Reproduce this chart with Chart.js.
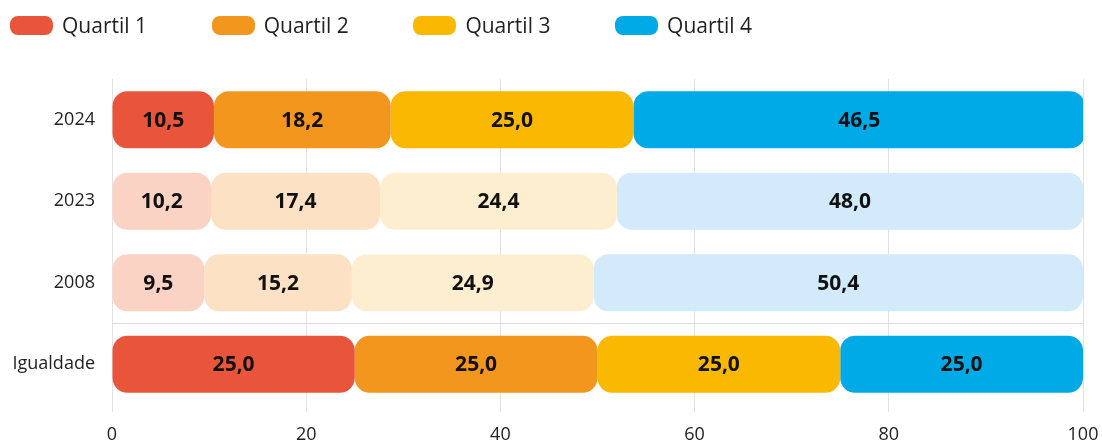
<!DOCTYPE html>
<html>
<head>
<meta charset="utf-8">
<script src="https://cdn.jsdelivr.net/npm/chart.js@4/dist/chart.umd.min.js"></script>
<style>
  body { margin: 0; background: #fff; font-family: "Open Sans", sans-serif; }
  #wrap { position: relative; width: 1102px; height: 441px; }
  #legend { position: absolute; left: 0; top: 0; height: 50px; width: 1102px; }
  .item { position: absolute; top: 11px; display: flex; align-items: center; font-size: 21px; color: #222; }
  .box { width: 43px; height: 19px; border-radius: 8px; margin-right: 9px; }
</style>
</head>
<body>
<div id="wrap">
  <canvas id="quartilChart" width="1102" height="441"></canvas>
  <div id="legend"></div>
</div>
<script>
// 범주 / 데이터
const labels = ['2024', '2023', '2008', 'Igualdade'];
const seriesNames = ['Quartil 1', 'Quartil 2', 'Quartil 3', 'Quartil 4'];
const quartil1 = [10.5, 10.2, 9.5, 25.0];
const quartil2 = [18.2, 17.4, 15.2, 25.0];
const quartil3 = [25.0, 24.4, 24.9, 25.0];
const quartil4 = [46.5, 48.0, 50.4, 25.0];
const xTicks = [0, 20, 40, 60, 80, 100];

// 진한 색 / 연한 색 (2023, 2008 은 연하게)
const strongColors = ['#E9553B', '#F3961D', '#FBB800', '#00AAE7'];
const lightColors = ['#FAD3C4', '#FDE1C4', '#FEEED0', '#D2EAFA'];

const values = [quartil1, quartil2, quartil3, quartil4];

// 누적 시작점 계산 -> floating bar 로 그려야 모든 막대 모서리가 둥글게 나옴
let starts = Array(labels.length).fill(0);
const datasets = values.map((data, i) => {
    const ranges = data.map((v, j) => [starts[j], starts[j] + v]);
    starts = starts.map((s, j) => s + data[j]);
    return {
        label: seriesNames[i],
        data: ranges,
        raw: data,
        backgroundColor: labels.map((l, j) => (j === 1 || j === 2) ? lightColors[i] : strongColors[i]),
        borderWidth: 0,
        borderRadius: 15,
        borderSkipped: false,
        grouped: false,
        categoryPercentage: 1,
        barPercentage: 0.7
    };
});

// 막대 안 숫자 표시
const valueLabels = {
    id: 'valueLabels',
    afterDatasetsDraw(chart) {
        const ctx = chart.ctx;
        ctx.save();
        ctx.font = 'bold 21px "Open Sans"';
        ctx.fillStyle = '#111';
        ctx.textAlign = 'center';
        ctx.textBaseline = 'middle';
        chart.data.datasets.forEach((ds, i) => {
            chart.getDatasetMeta(i).data.forEach((bar, j) => {
                const p = bar.getProps(['x', 'base', 'y'], true);
                const txt = ds.raw[j].toFixed(1).replace('.', ',');
                ctx.fillText(txt, (p.x + p.base) / 2, p.y + 1);
            });
        });
        ctx.restore();
    }
};

new Chart(document.getElementById('quartilChart'), {
    type: 'bar',
    data: { labels: labels, datasets: datasets },
    options: {
        responsive: false,
        animation: false,
        indexAxis: 'y',
        layout: { padding: { top: 79, right: 19, bottom: 0, left: 0 } },
        plugins: {
            legend: { display: false },
            tooltip: { enabled: false }
        },
        scales: {
            x: {
                min: 0,
                max: 100,
                afterBuildTicks: axis => { axis.ticks = xTicks.map(v => ({ value: v })); },
                afterFit: axis => {
                    axis.height = 36;
                    axis.paddingRight = 0; // 마지막 라벨 때문에 오른쪽이 줄어드는 것 방지
                },
                grid: { color: '#e2e2e2', tickLength: 7 },
                border: { display: false },
                ticks: { color: '#222', font: { family: 'Open Sans', size: 18 }, padding: 12 }
            },
            y: {
                afterFit: axis => { axis.width = 112; },
                grid: {
                    offset: true,
                    drawTicks: false,
                    color: c => c.index === 3 ? '#dcdcdc' : 'rgba(0,0,0,0)'
                },
                border: { display: false },
                ticks: { color: '#222', font: { family: 'Open Sans', size: 18 }, padding: 17 }
            }
        }
    },
    plugins: [valueLabels]
});

// 범례 (HTML)
const legendEl = document.getElementById('legend');
seriesNames.forEach((name, i) => {
    const item = document.createElement('div');
    item.className = 'item';
    item.style.left = (10 + i * 201.7) + 'px';
    item.innerHTML = '<span class="box" style="background:' + strongColors[i] + '"></span>' + name;
    legendEl.appendChild(item);
});
</script>
</body>
</html>
